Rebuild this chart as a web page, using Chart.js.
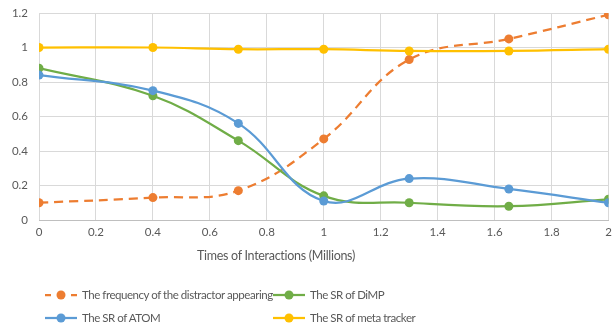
<!DOCTYPE html>
<html>
<head>
<meta charset="utf-8">
<script src="https://cdn.jsdelivr.net/npm/chart.js@4/dist/chart.umd.min.js"></script>
<style>
body{margin:0;background:#fff;}
#wrap{position:relative;width:613px;height:328px;font-family:Lato,"Open Sans",sans-serif;color:#595959;}
#xtitle{position:absolute;left:0;width:552px;top:248px;text-align:center;font-size:12.5px;letter-spacing:-0.3px;}
.leg{position:absolute;font-size:11.5px;letter-spacing:-0.45px;white-space:nowrap;display:flex;align-items:center;}
.leg svg{margin-right:5px;}
</style>
</head>
<body>
<div id="wrap">
<canvas id="myChart" width="613" height="328"></canvas>
<div id="xtitle">Times of Interactions (Millions)</div>
<div id="legend"></div>
</div>
<script>
// data
var xValues = [0, 0.4, 0.7, 1, 1.3, 1.65, 2];
var distractorValues = [0.10, 0.13, 0.17, 0.47, 0.93, 1.05, 1.19];
var dimpValues = [0.88, 0.72, 0.46, 0.14, 0.10, 0.08, 0.12];
var atomValues = [0.84, 0.75, 0.56, 0.11, 0.24, 0.18, 0.10];
var metaValues = [1.00, 1.00, 0.99, 0.99, 0.98, 0.98, 0.99];

var seriesNames = ["The frequency of the distractor appearing", "The SR of DiMP", "The SR of ATOM", "The SR of meta tracker"];
var seriesColors = ["#ED7D31", "#70AD47", "#5B9BD5", "#FFC000"];
var seriesData = [distractorValues, dimpValues, atomValues, metaValues];

function MakePoints(vals){
    var pts = [];
    for(var i = 0; i < xValues.length; i++){
        pts.push({x: xValues[i], y: vals[i]});
    }
    return pts;
}

var datasets = [];
for(var a = 0; a < seriesData.length; a++){
    datasets.push({
        label: seriesNames[a],
        data: MakePoints(seriesData[a]),
        borderColor: seriesColors[a],
        backgroundColor: seriesColors[a],
        borderWidth: 2.25,
        borderDash: a == 0 ? [9, 6] : [],
        pointRadius: 4.5,
        pointBorderWidth: 0,
        tension: 0.4,
        order: 4 - a
    });
}

var ctx = document.getElementById("myChart").getContext("2d");
var chart = new Chart(ctx, {
    type: "line",
    data: {datasets: datasets},
    options: {
        responsive: false,
        animation: false,
        layout: {padding: {top: 13, right: 3, left: 0, bottom: 0}},
        plugins: {legend: {display: false}, tooltip: {enabled: false}},
        scales: {
            x: {
                type: "linear",
                min: 0, max: 2,
                // fixed size so the plot sits where the original does
                afterFit: function(s){ s.height = 108; s.paddingRight = 0; s.paddingLeft = 0; },
                ticks: {stepSize: 0.2, color: "#595959", padding: 5, font: {family: "Lato", size: 11.5},
                    callback: function(v){ return Math.round(v * 10) / 10; }},
                grid: {color: "#d9d9d9", drawTicks: false},
                border: {color: "#bfbfbf"}
            },
            y: {
                min: 0, max: 1.2,
                afterFit: function(s){ s.width = 39; s.paddingTop = 0; s.paddingBottom = 0; },
                ticks: {stepSize: 0.2, color: "#595959", padding: 11, font: {family: "Lato", size: 11.5},
                    callback: function(v){ return Math.round(v * 10) / 10; }},
                grid: {color: "#d9d9d9", drawTicks: false},
                border: {display: false}
            }
        }
    }
});

// legend in two columns like the original
var legendPos = [[45, 296], [273, 296], [45, 319], [273, 319]];
var html = "";
for(var b = 0; b < seriesNames.length; b++){
    var dash = b == 0 ? "stroke-dasharray='6 20'" : "";
    html += "<div class='leg' style='left:" + legendPos[b][0] + "px;top:" + (legendPos[b][1] - 8) + "px'>";
    html += "<svg width='32' height='10'><line x1='0' y1='5' x2='32' y2='5' stroke='" + seriesColors[b] + "' stroke-width='2.25' " + dash + "/>";
    html += "<circle cx='16' cy='5' r='4.5' fill='" + seriesColors[b] + "'/></svg>";
    html += "<span>" + seriesNames[b] + "</span></div>";
}
document.getElementById("legend").innerHTML = html;
</script>
</body>
</html>
